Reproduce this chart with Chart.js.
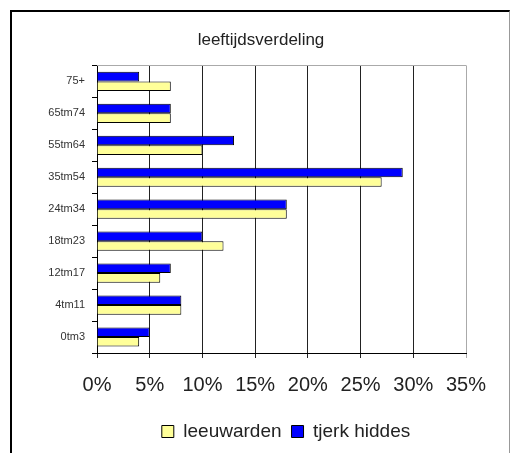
<!DOCTYPE html>
<html>
<head>
<meta charset="utf-8">
<script src="https://cdn.jsdelivr.net/npm/chart.js@4/dist/chart.umd.min.js"></script>
<style>
  html, body { margin: 0; padding: 0; background: #fff; }
  #frame { position: absolute; left: 10px; top: 10px; width: 497px; height: 470px;
           border-left: 2px solid #000; border-top: 2px solid #000; border-right: 1px solid #999; }
  #wrap { position: absolute; left: 0; top: 0; width: 510px; height: 453px; }
</style>
</head>
<body>
<div id="frame"></div>
<div id="wrap"><canvas id="c" width="510" height="453"></canvas></div>
<script>
const categories = ["75+", "65tm74", "55tm64", "35tm54", "24tm34", "18tm23", "12tm17", "4tm11", "0tm3"];
const tjerkHiddes = [4, 7, 13, 29, 18, 10, 7, 8, 5];
const leeuwarden = [7, 7, 10, 27, 18, 12, 6, 8, 4];
const xTicks = [0, 5, 10, 15, 20, 25, 30, 35];

const plotBorder = {
  id: 'plotBorder',
  afterLayout(chart) {
    const lg = chart.legend;
    if (lg) { lg.left += 48; lg.right += 48; }
    const t = chart.titleBlock;
    if (t) { t.left += 23; t.right += 23; }
  },
  beforeDatasetsDraw(chart) {
    const a = chart.chartArea, ctx = chart.ctx;
    ctx.save();
    ctx.strokeStyle = '#aaa';
    ctx.lineWidth = 1;
    ctx.beginPath();
    ctx.moveTo(a.left, Math.round(a.top) + 0.5);
    ctx.lineTo(a.right, Math.round(a.top) + 0.5);
    ctx.stroke();
    ctx.restore();
  }
};

new Chart(document.getElementById('c'), {
  type: 'bar',
  data: {
    labels: categories,
    datasets: [
      { label: 'tjerk hiddes', data: tjerkHiddes, backgroundColor: '#0000FF', borderColor: '#000', borderWidth: 1,
        categoryPercentage: 0.6, barPercentage: 1.0 },
      { label: 'leeuwarden', data: leeuwarden, backgroundColor: '#FFFF99', borderColor: '#000', borderWidth: 1,
        categoryPercentage: 0.6, barPercentage: 1.0 }
    ]
  },
  options: {
    indexAxis: 'y',
    responsive: false,
    animation: false,
    layout: { padding: { left: 10, right: 44, top: 30, bottom: 2 } },
    plugins: {
      title: { display: true, text: 'leeftijdsverdeling', color: '#222',
               font: { family: 'Liberation Sans, Arial, sans-serif', size: 17, weight: 'normal' },
               padding: { top: 0, bottom: 15 } },
      legend: { position: 'bottom', reverse: true,
                labels: { color: '#222', boxWidth: 12, boxHeight: 12, padding: 10,
                          font: { family: 'Liberation Sans, Arial, sans-serif', size: 19 } } },
      tooltip: { enabled: false }
    },
    scales: {
      x: {
        min: 0, max: 35,
        afterBuildTicks(scale) { scale.ticks = xTicks.map(v => ({ value: v })); },
        ticks: { callback: v => v + '%', color: '#222', padding: 15,
                 font: { family: 'Liberation Sans, Arial, sans-serif', size: 20 } },
        grid: { color: ctx => (ctx.tick && ctx.tick.value === 35) ? '#aaa' : '#222', lineWidth: 1, tickLength: 5 },
        border: { display: true, color: '#000', width: 1 }
      },
      y: {
        afterFit(scale) { scale.width = 87; },
        ticks: { color: '#333', padding: 7,
                 font: { family: 'Liberation Sans, Arial, sans-serif', size: 11 } },
        grid: { drawOnChartArea: false, offset: true, color: '#000', tickLength: 5 },
        border: { display: true, color: '#000', width: 1 }
      }
    }
  },
  plugins: [plotBorder]
});
</script>
</body>
</html>
